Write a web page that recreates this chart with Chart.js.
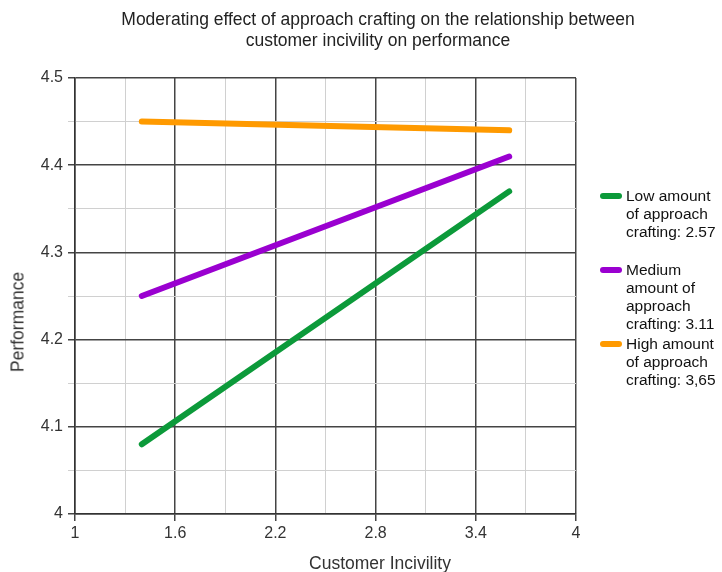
<!DOCTYPE html>
<html lang="en">
  <head>
    <meta charset="UTF-8" />
    <title>Moderating effect of approach crafting</title>
    <script src="https://cdn.jsdelivr.net/npm/chart.js"></script>
    <style>
      body {
        margin: 0;
        background: #fff;
        font-family: "Liberation Sans", Arial, sans-serif;
        color: #222;
      }
      .wrap {
        position: relative;
        width: 722px;
        height: 572px;
      }
      .title {
        position: absolute;
        left: 60px;
        width: 636px;
        top: 9px;
        text-align: center;
        font-size: 17.5px;
        line-height: 21px;
        color: #222;
      }
      .ytitle {
        position: absolute;
        left: 18px;
        top: 322px;
        transform: translate(-50%, -50%) rotate(-90deg);
        font-size: 17.5px;
        color: #333;
        white-space: nowrap;
      }
      .xtitle {
        position: absolute;
        left: 380px;
        top: 553px;
        transform: translateX(-50%);
        font-size: 17.5px;
        color: #333;
        white-space: nowrap;
      }
      #legend {
        position: absolute;
        left: 600px;
        top: 187px;
        font-size: 15.5px;
        line-height: 18px;
        color: #111;
      }
      .item {
        position: relative;
        padding-left: 26px;
        margin-bottom: 20px;
      }
      .item.tight {
        margin-bottom: 2px;
      }
      .swatch {
        position: absolute;
        left: 0;
        top: 6px;
        width: 22px;
        height: 6px;
        border-radius: 3px;
      }
    </style>
  </head>
  <body>
    <div class="wrap">
      <canvas id="chart" width="722" height="572"></canvas>
      <div class="title">
        Moderating effect of approach crafting on the relationship between<br />customer incivility on performance
      </div>
      <div class="ytitle">Performance</div>
      <div class="xtitle">Customer Incivility</div>
      <div id="legend"></div>
    </div>

    <script>
      const xValues = [1.4, 3.6];
      const lowValues = [4.08, 4.37];
      const mediumValues = [4.25, 4.41];
      const highValues = [4.45, 4.44];

      const seriesLabels = [
        ["Low amount", "of approach", "crafting: 2.57"],
        ["Medium", "amount of", "approach", "crafting: 3.11"],
        ["High amount", "of approach", "crafting: 3,65"],
      ];
      const seriesColors = ["#0c9a3a", "#9a00d0", "#ff9a00"];

      const xTicks = [1, 1.3, 1.6, 1.9, 2.2, 2.5, 2.8, 3.1, 3.4, 3.7, 4];
      const xLabels = ["1", "1.6", "2.2", "2.8", "3.4", "4"];
      const yTicks = [4, 4.05, 4.1, 4.15, 4.2, 4.25, 4.3, 4.35, 4.4, 4.45, 4.5];
      const yLabels = ["4", "4.1", "4.2", "4.3", "4.4", "4.5"];

      function points(ys) {
        return ys.map((y, i) => ({ x: xValues[i], y: y }));
      }

      function fmt(v) {
        return String(Math.round(v * 100) / 100);
      }

      function isMajor(ctx, labels) {
        return !ctx.tick || labels.includes(fmt(ctx.tick.value));
      }

      const allValues = [lowValues, mediumValues, highValues];

      new Chart(document.getElementById("chart"), {
        type: "line",
        data: {
          datasets: allValues.map((vals, i) => ({
            label: seriesLabels[i].join(" "),
            data: points(vals),
            borderColor: seriesColors[i],
            backgroundColor: seriesColors[i],
            borderWidth: 6,
            borderCapStyle: "round",
            pointRadius: 0,
            fill: false,
          })),
        },
        options: {
          responsive: false,
          animation: false,
          layout: {
            padding: { top: 78, right: 146, left: 0, bottom: 0 },
          },
          plugins: {
            legend: { display: false },
            tooltip: { enabled: false },
          },
          scales: {
            x: {
              type: "linear",
              min: 1,
              max: 4,
              afterBuildTicks: (scale) => {
                scale.ticks = xTicks.map((v) => ({ value: v }));
              },
              afterFit: (scale) => {
                scale.height = 58;
              },
              border: { color: "#333", width: 1.5 },
              grid: {
                color: (ctx) => (isMajor(ctx, xLabels) ? "#444" : "#d0d0d0"),
                tickColor: (ctx) => (isMajor(ctx, xLabels) ? "#444" : "rgba(0,0,0,0)"),
                lineWidth: (ctx) => (isMajor(ctx, xLabels) ? 1.5 : 1),
                tickLength: 7,
              },
              ticks: {
                autoSkip: false,
                maxRotation: 0,
                padding: 3,
                color: "#333",
                font: { family: "Liberation Sans", size: 16 },
                callback: (v) => (xLabels.includes(fmt(v)) ? fmt(v) : ""),
              },
            },
            y: {
              type: "linear",
              min: 4,
              max: 4.5,
              afterBuildTicks: (scale) => {
                scale.ticks = yTicks.map((v) => ({ value: v }));
              },
              afterFit: (scale) => {
                scale.width = 75;
              },
              border: { color: "#333", width: 1.5 },
              grid: {
                color: (ctx) => (isMajor(ctx, yLabels) ? "#444" : "#d0d0d0"),
                lineWidth: (ctx) => (isMajor(ctx, yLabels) ? 1.5 : 1),
                tickLength: 7,
              },
              ticks: {
                autoSkip: false,
                padding: 5,
                color: "#333",
                font: { family: "Liberation Sans", size: 16 },
                callback: (v) => (yLabels.includes(fmt(v)) ? fmt(v) : ""),
              },
            },
          },
        },
      });

      const legend = document.getElementById("legend");
      seriesLabels.forEach((lines, i) => {
        const item = document.createElement("div");
        item.className = "item" + (i === 1 ? " tight" : "");
        item.innerHTML =
          `<span class="swatch" style="background:${seriesColors[i]}"></span>` +
          lines.join("<br>");
        legend.appendChild(item);
      });
    </script>
  </body>
</html>
